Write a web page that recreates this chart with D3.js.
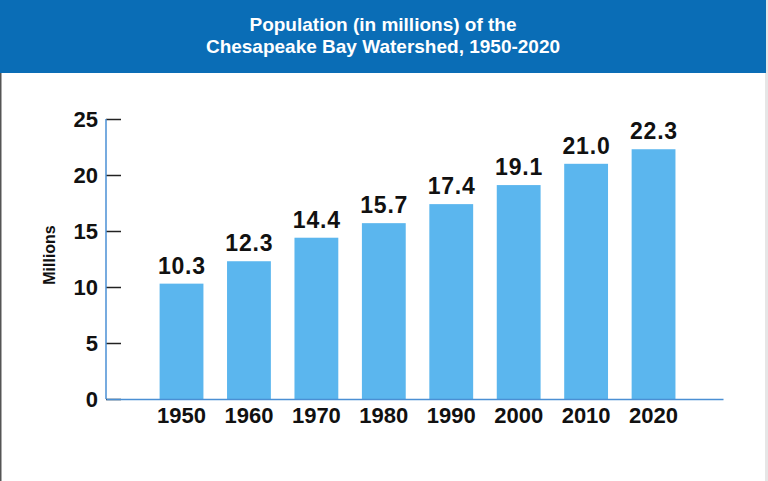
<!DOCTYPE html>
<html>
<head>
<meta charset="utf-8">
<script src="https://cdn.jsdelivr.net/npm/d3@7"></script>
<style>
  body { margin: 0; background: #fff; }
  svg text { font-family: "Liberation Sans", Arial, sans-serif; }
</style>
</head>
<body>
<svg id="chart"></svg>
<script>
const years = ['1950', '1960', '1970', '1980', '1990', '2000', '2010', '2020'];
const population = [10.3, 12.3, 14.4, 15.7, 17.4, 19.1, 21.0, 22.3];
const yTicks = [0, 5, 10, 15, 20, 25];
const titleLines = ['Population (in millions) of the', 'Chesapeake Bay Watershed, 1950-2020'];

const width = 768, height = 481;
const svg = d3.select('#chart').attr('width', width).attr('height', height);

// page frame
svg.append('rect').attr('x', 0).attr('y', 0).attr('width', width).attr('height', height).attr('fill', '#fff');
svg.append('line').attr('x1', 0.75).attr('x2', 0.75).attr('y1', 0).attr('y2', height)
  .attr('stroke', '#555').attr('stroke-width', 1.5);
svg.append('rect').attr('x', 765).attr('y', 0).attr('width', 3).attr('height', height).attr('fill', '#e6e6e6');

// header band
svg.append('rect').attr('x', 0).attr('y', 0).attr('width', 766).attr('height', 73).attr('fill', '#0a6db6');
svg.append('g').selectAll('text').data(titleLines).join('text')
  .attr('x', 383).attr('y', (d, i) => 31 + i * 22)
  .attr('text-anchor', 'middle')
  .attr('fill', '#fff')
  .attr('font-size', '19px')
  .attr('font-weight', 'bold')
  .text(d => d);

const margin = { left: 106, right: 45, top: 119, bottom: 82 };

const x = d3.scaleBand()
  .domain(years)
  .range([margin.left, width - margin.right])
  .paddingInner(0.35)
  .paddingOuter(0.75)
  .align(0.53);

const y = d3.scaleLinear()
  .domain([0, 25])
  .range([height - margin.bottom, margin.top]);

// bars
svg.append('g').selectAll('rect').data(population).join('rect')
  .attr('x', (d, i) => x(years[i]))
  .attr('y', d => y(d))
  .attr('width', x.bandwidth())
  .attr('height', d => y(0) - y(d))
  .attr('fill', '#5bb6ee');

// value labels (slightly tracked out like the original)
svg.append('g').selectAll('text').data(population).join('text')
  .attr('x', (d, i) => x(years[i]) + x.bandwidth() / 2 + 0.4)
  .attr('y', d => y(d) - 10)
  .attr('text-anchor', 'middle')
  .attr('font-size', '23px')
  .attr('font-weight', 'bold')
  .attr('letter-spacing', '0.8px')
  .attr('fill', '#111')
  .text(d => d.toFixed(1));

// y axis
const yAxis = svg.append('g')
  .attr('transform', `translate(${margin.left},0)`)
  .call(d3.axisRight(y).tickValues(yTicks).tickSize(15).tickFormat(d3.format('d')));
yAxis.select('.domain').remove();
yAxis.selectAll('.tick line').attr('stroke', '#222').attr('stroke-width', 1.5);
yAxis.selectAll('.tick text')
  .attr('x', -8).attr('text-anchor', 'end')
  .attr('font-size', '22px').attr('font-weight', 'bold').attr('fill', '#111')
  .attr('dy', '0.35em');
svg.append('line')
  .attr('x1', margin.left).attr('x2', margin.left)
  .attr('y1', y(25)).attr('y2', y(0))
  .attr('stroke', '#4a8fd4').attr('stroke-width', 1.5);

// x axis
const xAxis = svg.append('g')
  .attr('transform', `translate(0,${y(0)})`)
  .call(d3.axisBottom(x).tickSize(0).tickPadding(7));
xAxis.select('.domain').attr('stroke', '#4a8fd4').attr('stroke-width', 1.5);
xAxis.selectAll('.tick text')
  .attr('font-size', '22px').attr('font-weight', 'bold').attr('fill', '#111')
  .attr('dy', '0.76em');

// y axis title
svg.append('text')
  .attr('transform', `translate(55,${(y(0) + y(25)) / 2 - 4}) rotate(-90)`)
  .attr('text-anchor', 'middle')
  .attr('font-size', '16px')
  .attr('font-weight', 'bold')
  .attr('fill', '#111')
  .text('Millions');
</script>
</body>
</html>
